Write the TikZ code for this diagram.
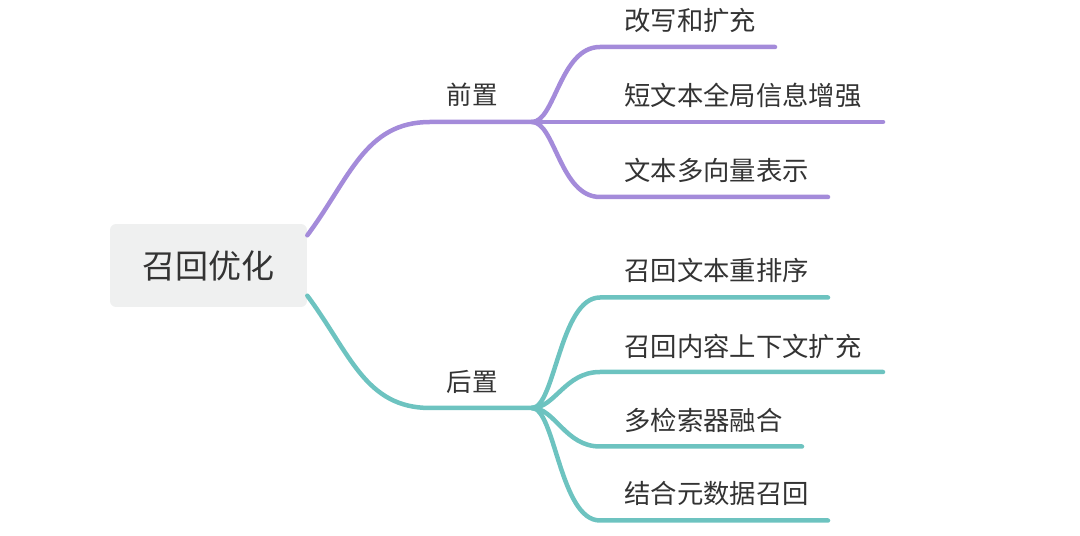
\documentclass[tikz,border=0pt]{standalone}
\usepackage{fontspec}
\setmainfont{Noto Sans CJK SC}
\definecolor{prepurple}{HTML}{A48BDA}
\definecolor{postteal}{HTML}{6DC3C0}
\definecolor{rootgray}{HTML}{EFF0F0}
\definecolor{inkgray}{HTML}{333333}

\begin{document}
\begin{tikzpicture}[x=0.02cm, y=-0.02cm,
		branch/.style={line width=0.09cm, line cap=round},
		rootbox/.style={fill=rootgray, rounded corners=0.12cm, minimum width=3.94cm, minimum height=1.66cm, inner sep=0pt, text=inkgray, font=\fontsize{18.8}{20}\selectfont},
		midtext/.style={inner sep=0pt, text=inkgray, font=\fontsize{14.5}{16}\selectfont},
		leaftext/.style={anchor=west, inner sep=0pt, text=inkgray, font=\fontsize{15}{17}\selectfont}]
		%%%%% START %%%%%
		
		\useasboundingbox (0, 0) rectangle (1080, 536);
		
		\node[rootbox] (root) at (208.5, 265.5) {召回优化};
		
		% first level
		\coordinate (prej) at (532, 122);
		\coordinate (postj) at (532, 408);
		\node[midtext] (pre) at (472, 95) {前置};
		\node[midtext] (post) at (472, 382) {后置};
		
		\draw[branch, prepurple] (root.17) .. controls (350, 178) and (365, 122) .. (430, 122) -- (prej);
		\draw[branch, postteal] (root.-17) .. controls (350, 353) and (365, 408) .. (430, 408) -- (postj);
		
		% before retrieval
		\coordinate (a1) at (600, 47);
		\coordinate (a1end) at (775, 47);
		\coordinate (a2end) at (883, 122);
		\coordinate (a3) at (600, 197);
		\coordinate (a3end) at (828, 197);
		\node[leaftext] (l1) at (624, 21) {改写和扩充};
		\node[leaftext] (l2) at (624, 95) {短文本全局信息增强};
		\node[leaftext] (l3) at (624, 170) {文本多向量表示};
		\draw[branch, prepurple] (prej) .. controls (555, 122) and (560, 47) .. (a1) -- (a1end);
		\draw[branch, prepurple] (prej) -- (a2end);
		\draw[branch, prepurple] (prej) .. controls (555, 122) and (560, 197) .. (a3) -- (a3end);
		
		% after retrieval
		\coordinate (b1) at (600, 297.5);
		\coordinate (b1end) at (828, 297.5);
		\coordinate (b2) at (600, 372);
		\coordinate (b2end) at (883, 372);
		\coordinate (b3) at (600, 446.5);
		\coordinate (b3end) at (802, 446.5);
		\coordinate (b4) at (600, 520.5);
		\coordinate (b4end) at (828, 520.5);
		\node[leaftext] (m1) at (624, 270.5) {召回文本重排序};
		\node[leaftext] (m2) at (624, 346) {召回内容上下文扩充};
		\node[leaftext] (m3) at (624, 420) {多检索器融合};
		\node[leaftext] (m4) at (624, 493) {结合元数据召回};
		\draw[branch, postteal] (postj) .. controls (555, 408) and (560, 297.5) .. (b1) -- (b1end);
		\draw[branch, postteal] (postj) .. controls (555, 408) and (565, 372) .. (b2) -- (b2end);
		\draw[branch, postteal] (postj) .. controls (555, 408) and (565, 446.5) .. (b3) -- (b3end);
		\draw[branch, postteal] (postj) .. controls (555, 408) and (560, 520.5) .. (b4) -- (b4end);
		
		%%%%% END %%%%%
\end{tikzpicture}
\end{document}
